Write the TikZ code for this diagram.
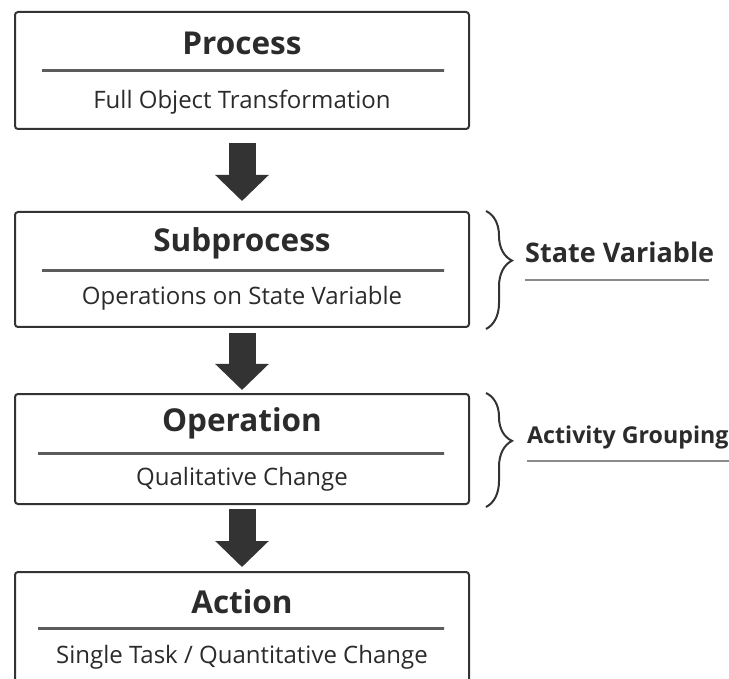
\documentclass[tikz,border=0pt]{standalone}
\usepackage{fontspec}
\setmainfont{Open Sans}
\usetikzlibrary{arrows.meta,decorations.pathreplacing}
\definecolor{ink}{HTML}{2B2B2B}
\definecolor{frame}{HTML}{333333}
\definecolor{uline}{HTML}{8A8A8A}
\pgfdeclarehorizontalshading{rulesh}{100bp}{color(0bp)=(white); color(22bp)=(frame!80); color(78bp)=(frame!80); color(100bp)=(white)}
\begin{document}
\begin{tikzpicture}[x=1pt,y=-1pt,
  box/.style={draw=frame, line width=2pt, rounded corners=3pt, minimum width=454pt, inner sep=0pt, fill=white},
  title/.style={font=\bfseries\fontsize{31.5}{33}\selectfont, text=ink, inner sep=0pt},
  sub/.style={font=\fontsize{24}{26}\selectfont, text=ink, inner sep=0pt},
  flow/.style={line width=27pt, draw=frame, -{Triangle[width=52pt,length=26pt]}},
  bracket/.style={draw=frame, line width=2pt, decorate, decoration={brace, amplitude=26pt, aspect=0.42}},
  side/.style={font=\bfseries\fontsize{27}{29}\selectfont, text=ink, inner sep=0pt, anchor=west},
  rulefill/.style={shading=rulesh},
]
\useasboundingbox (0,0) rectangle (729,679);
\clip (0,0) rectangle (729,679);
\fill[white] (0,0) rectangle (729,679);

% boxes
\node[box, minimum height=117pt] (b1) at (242,70.5) {};
\node[box, minimum height=115pt] (b2) at (242,269.5) {};
\node[box, minimum height=110pt] (b3) at (242,449) {};
\node[box, minimum height=130pt] (b4) at (242,637) {};

% titles and subtitles
\node[title] (t1) at (242,43) {Process};
\node[sub]   (s1) at (242,102) {Full Object Transformation};
\node[title] (t2) at (242,243) {Subprocess};
\node[sub]   (s2) at (242,298) {Operations on State Variable};
\node[title] (t3) at (242,423) {Operation};
\node[sub]   (s3) at (242,479) {Qualitative Change};
\node[title] (t4) at (242,602) {Action};
\node[sub]   (s4) at (242,657) {Single Task / Quantitative Change};

% divider rules
\shade[rulefill] (42,70) rectangle (444,72);
\shade[rulefill] (42,270) rectangle (444,272);
\shade[rulefill] (38,452) rectangle (444,454);
\shade[rulefill] (38,627) rectangle (444,629);

% arrows
\draw[flow, shorten <=13pt, shorten >=10pt] (b1.south) -- (b2.north);
\draw[flow, shorten <=5pt, shorten >=3pt] (b2.south) -- (b3.north);
\draw[flow, shorten <=4pt, shorten >=4pt] (b3.south) -- (b4.north);

% braces
\coordinate (br1a) at (486,211);
\coordinate (br1b) at (486,329);
\coordinate (br2a) at (486,393);
\coordinate (br2b) at (486,507);
\draw[bracket] (br1a) -- (br1b);
\draw[bracket] (br2a) -- (br2b);

% side labels
\node[side] (l1) at (525,252) {State Variable};
\node[side, font=\bfseries\fontsize{23.2}{25}\selectfont] (l2) at (527,437) {Activity Grouping};
\draw[uline, line width=1.6pt] (l1.west |- 0,280) -- (709,280);
\draw[uline, line width=1.6pt] (l2.west |- 0,461) -- (729,461);
\end{tikzpicture}
\end{document}
